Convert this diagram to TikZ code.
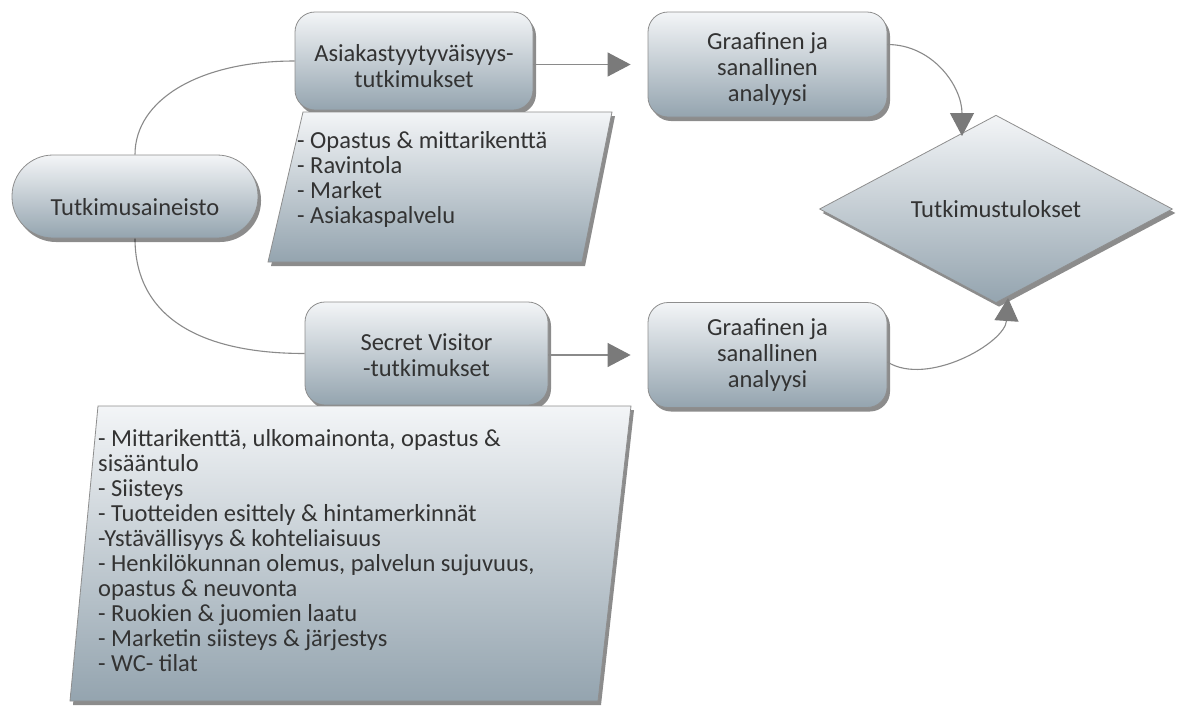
\documentclass[tikz,border=0pt]{standalone}
\usepackage{fontspec}
\setmainfont{Carlito}
\usetikzlibrary{shapes.geometric,shadows,arrows.meta}
\definecolor{boxtop}{HTML}{F3F5F7}
\definecolor{boxbot}{HTML}{94A4AF}
\definecolor{edgec}{HTML}{8E8E8E}
\definecolor{txtc}{HTML}{333333}
\definecolor{connc}{HTML}{8A8A8A}
\definecolor{headc}{HTML}{7A7A7A}
\pgfdeclarelayer{back}
\pgfdeclarelayer{bg}
\pgfsetlayers{back,bg,main}
\begin{document}
\begin{tikzpicture}[x=1pt,y=-1pt,
  every node/.style={text=txtc, font=\fontsize{24.5}{26}\selectfont},
  gfill/.style={top color=boxtop, bottom color=boxbot, draw=edgec, line width=0.8pt,
    drop shadow={shadow xshift=3pt, shadow yshift=-4pt, opacity=0.45, fill=black}},
  rbox/.style={gfill, rectangle, rounded corners=20pt, inner sep=0pt},
  boxtext/.style={align=center, inner sep=0pt},
  listtext/.style={anchor=west, align=left, inner sep=0pt, font=\fontsize{24.5}{25}\selectfont},
  link/.style={draw=connc, line width=1.1pt},
  arr/.style={link, -{Triangle[length=23pt,width=24pt,color=headc]}}]
\begin{pgfonlayer}{back}
\fill[white] (0,0) rectangle (1181,713);
\end{pgfonlayer}
\useasboundingbox (0,0) rectangle (1181,713);

% nodes
\node[gfill, rectangle, rounded corners=41pt, minimum width=246pt, minimum height=83pt, inner sep=0pt] (tutk) at (135,196.5) {};
\node[boxtext] (tutkT) at ([yshift=-11pt]tutk.center) {Tutkimusaineisto};

\node[rbox, minimum width=238pt, minimum height=98pt] (asia) at (414,61) {};
\node[boxtext] (asiaT) at ([yshift=-5pt]asia.center) {Asiakastyytyväisyys-\\tutkimukset};

\path[gfill] (303,112) -- (612,112) -- (582,262) -- (268,262) -- cycle;
\node[listtext] (p1) at (297,179) {- Opastus \& mittarikenttä\\- Ravintola\\- Market\\- Asiakaspalvelu};

\node[rbox, minimum width=243pt, minimum height=103pt] (sv) at (426.5,353.5) {};
\node[boxtext] (svT) at ([yshift=-2pt]sv.center) {Secret Visitor\\-tutkimukset};

\path[gfill] (98,406) -- (631,406) -- (598,701) -- (70,701) -- cycle;
\node[listtext] (p2) at (98,550.5) {- Mittarikenttä, ulkomainonta, opastus \&\\sisääntulo\\- Siisteys\\- Tuotteiden esittely \& hintamerkinnät\\-Ystävällisyys \& kohteliaisuus\\- Henkilökunnan olemus, palvelun sujuvuus,\\opastus \& neuvonta\\- Ruokien \& juomien laatu\\- Marketin siisteys \& järjestys\\- WC- tilat};

\node[rbox, minimum width=239pt, minimum height=105pt] (graf1) at (767.5,64.5) {};
\node[boxtext] (graf1T) at ([yshift=-4pt]graf1.center) {Graafinen ja\\sanallinen\\analyysi};

\node[rbox, minimum width=239pt, minimum height=105pt] (graf2) at (767.5,355) {};
\node[boxtext] (graf2T) at (graf2.center) {Graafinen ja\\sanallinen\\analyysi};

\node[gfill, diamond, minimum width=353pt, minimum height=142pt, inner sep=0pt] (res) at (996,209) {Tutkimustulokset};

\coordinate (t1) at (962,136);
\coordinate (t2) at (1008,298);

% connectors
\begin{pgfonlayer}{bg}
\draw[link] (asia.west) .. controls +(-95,0) and +(0,-55) .. (tutk.north);
\draw[link] (tutk.south) .. controls +(0,75) and +(-110,0) .. (sv.west);
\end{pgfonlayer}
\draw[arr, shorten >=17pt] (asia.east |- graf1.west) -- (graf1.west);
\draw[arr, shorten >=17pt] (sv.east |- graf2.west) -- (graf2.west);
\draw[arr] ([yshift=20pt]graf1.east) .. controls +(45,0) and +(0,-50) .. (t1);
\draw[arr] ([yshift=-7pt]graf2.east) .. controls +(40,25) and +(-3,45) .. (t2);
\end{tikzpicture}
\end{document}
